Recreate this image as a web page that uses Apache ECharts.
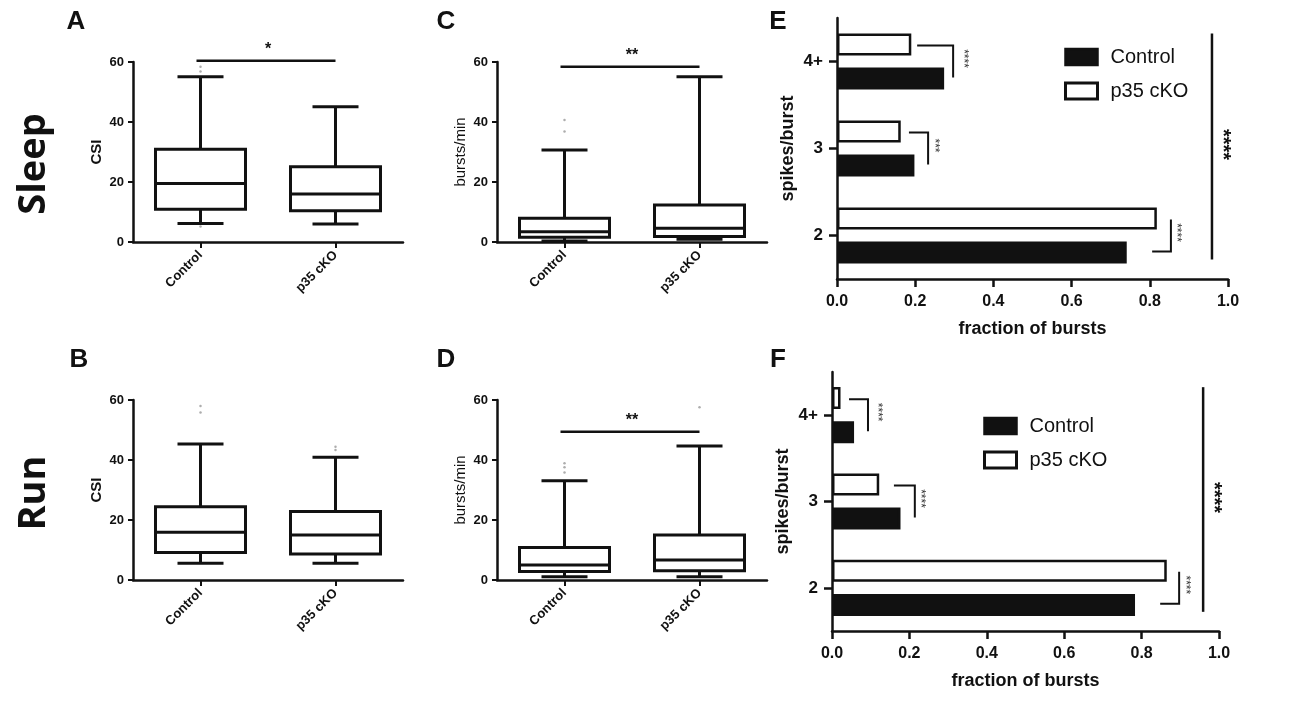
<!DOCTYPE html>
<html>
<head>
    <meta charset="UTF-8">
    <title>p35 cKO bursting</title>
    <script type="text/javascript" src="https://cdn.jsdelivr.net/npm/echarts@6/dist/echarts.min.js"></script>
</head>
<body style="margin:0;background-color:#fff;">
<div id="fig" style="width:1300px;height:705px;"></div>
<script>
    var groups = ['Control', 'p35 cKO'];
    var csiTicks = [0, 20, 40, 60];
    // box stats: [low whisker, Q1, median, Q3, high whisker], Control then p35 cKO
    var sleepCsi = [[6.2, 10.9, 19.5, 30.9, 55.1], [6, 10.4, 16, 25.1, 45.1]];
    var runCsi = [[5.6, 9.2, 15.9, 24.4, 45.3], [5.6, 8.7, 15, 22.8, 40.9]];
    var sleepRate = [[0.3, 1.6, 3.4, 7.9, 30.7], [0.9, 1.8, 4.6, 12.3, 55.1]];
    var runRate = [[1.1, 2.8, 5, 10.8, 33.1], [1.1, 3.1, 6.7, 15, 44.7]];
    // outliers: [group index, value]
    var sleepCsiOut = [[0, 58.4], [0, 56.8], [0, 5.2]];
    var runCsiOut = [[0, 58], [0, 55.8], [1, 44.4], [1, 43.3]];
    var sleepRateOut = [[0, 40.7], [0, 36.8]];
    var runRateOut = [[0, 38.9], [0, 37.6], [0, 35.8], [1, 57.6]];
    // significance bar: [height], stars
    var sigSleepCsi = [[60.4]], sigSleepCsiStars = '*';
    var sigSleepRate = [[58.4]], sigSleepRateStars = '**';
    var sigRunRate = [[49.4]], sigRunRateStars = '**';

    var spikeCats = ['2', '3', '4+'];
    var fracTicks = [0, 0.2, 0.4, 0.6, 0.8, 1.0];
    var sleepCtrl = [0.741, 0.198, 0.274];
    var sleepKo = [0.818, 0.163, 0.19];
    var runCtrl = [0.783, 0.177, 0.057];
    var runKo = [0.865, 0.122, 0.022];
    // pair brackets: [category, start x, corner x, stars x, kind 0=top/1=bottom]
    var sleepPairs = [[2, 0.205, 0.297, 0.322, 0], [1, 0.184, 0.233, 0.248, 0], [0, 0.806, 0.854, 0.867, 1]];
    var sleepPairStars = ['****', '***', '****'];
    var runPairs = [[2, 0.044, 0.093, 0.116, 0], [1, 0.160, 0.214, 0.227, 0], [0, 0.848, 0.897, 0.912, 1]];
    var runPairStars = ['****', '****', '****'];
    // overall test line: [line x, stars x]
    var sleepOverall = [[0.959, 0.985]];
    var runOverall = [[0.959, 0.985]];

    var ink = '#111';
    var font = '"Liberation Sans", Arial, sans-serif';

    function pen(w) {
        return {stroke: ink, lineWidth: w || 3, fill: null};
    }

    function renderBox(params, api) {
        var c = api.value(0);
        var lo = api.coord([c, api.value(1)]);
        var q1 = api.coord([c, api.value(2)]);
        var md = api.coord([c, api.value(3)]);
        var q3 = api.coord([c, api.value(4)]);
        var hi = api.coord([c, api.value(5)]);
        var x = lo[0], half = 45, cap = 23;
        return {type: 'group', children: [
            {type: 'line', shape: {x1: x, y1: hi[1], x2: x, y2: q3[1]}, style: pen()},
            {type: 'line', shape: {x1: x, y1: q1[1], x2: x, y2: lo[1]}, style: pen()},
            {type: 'line', shape: {x1: x - cap, y1: hi[1], x2: x + cap, y2: hi[1]}, style: pen()},
            {type: 'line', shape: {x1: x - cap, y1: lo[1], x2: x + cap, y2: lo[1]}, style: pen()},
            {type: 'rect', shape: {x: x - half, y: q3[1], width: half * 2, height: q1[1] - q3[1]},
                style: {stroke: ink, lineWidth: 3, fill: '#fff'}},
            {type: 'line', shape: {x1: x - half, y1: md[1], x2: x + half, y2: md[1]}, style: pen()}
        ]};
    }

    function makeSig(stars) {
        return function (params, api) {
            var a = api.coord([0, api.value(0)]);
            var b = api.coord([1, api.value(0)]);
            return {type: 'group', children: [
                {type: 'line', shape: {x1: a[0] - 4, y1: a[1], x2: b[0], y2: b[1]}, style: pen(2.5)},
                {type: 'text', x: (a[0] + b[0]) / 2, y: a[1] - 3,
                    style: {text: stars, fontSize: 16, fontWeight: 'bold', fontFamily: font, fill: ink,
                        align: 'center', verticalAlign: 'bottom'}}
            ]};
        };
    }

    function makeBracket(stars) {
        return function (params, api) {
            var c = api.value(0);
            var a = api.coord([api.value(1), c]);
            var b = api.coord([api.value(2), c]);
            var t = api.coord([api.value(3), c]);
            var yTop = a[1] - 16, yBot = a[1] + 16;
            var pts = api.value(4) === 0
                ? [[a[0], yTop], [b[0], yTop], [b[0], yBot]]
                : [[b[0], yTop], [b[0], yBot], [a[0], yBot]];
            return {type: 'group', children: [
                {type: 'polyline', shape: {points: pts}, style: pen(2)},
                {type: 'text', x: t[0], y: a[1] - 3, rotation: -Math.PI / 2,
                    style: {text: stars[params.dataIndex], fontSize: 12, fontFamily: font, fill: '#333',
                        align: 'center', verticalAlign: 'middle'}}
            ]};
        };
    }

    function renderOverall(params, api) {
        var top = api.coord([api.value(0), 2]);
        var bot = api.coord([api.value(0), 0]);
        var lab = api.coord([api.value(1), 1]);
        var y1 = top[1] - 28, y2 = bot[1] + 24;
        return {type: 'group', children: [
            {type: 'line', shape: {x1: top[0], y1: y1, x2: top[0], y2: y2}, style: pen(2.5)},
            {type: 'text', x: lab[0], y: (y1 + y2) / 2 - 2, rotation: -Math.PI / 2,
                style: {text: '****', fontSize: 20, fontWeight: 'bold', fontFamily: font, fill: ink,
                    align: 'center', verticalAlign: 'middle'}}
        ]};
    }

    var grids = [
        {left: 133, top: 62, width: 270, height: 180},
        {left: 133, top: 400, width: 270, height: 180},
        {left: 497, top: 62, width: 270, height: 180},
        {left: 497, top: 400, width: 270, height: 180},
        {left: 837, top: 18, width: 391, height: 261},
        {left: 832, top: 372, width: 387, height: 259}
    ];
    grids.forEach(function (g) { g.outerBoundsMode = 'none'; g.containLabel = false; });

    var boxPanels = [
        {stats: sleepCsi, out: sleepCsiOut, sig: sigSleepCsi, stars: sigSleepCsiStars, name: 'CSI', weight: 'bold'},
        {stats: runCsi, out: runCsiOut, sig: null, name: 'CSI', weight: 'bold'},
        {stats: sleepRate, out: sleepRateOut, sig: sigSleepRate, stars: sigSleepRateStars, name: 'bursts/min', weight: 'normal'},
        {stats: runRate, out: runRateOut, sig: sigRunRate, stars: sigRunRateStars, name: 'bursts/min', weight: 'normal'}
    ];

    var xAxes = [], yAxes = [], series = [];
    var axisLine = {show: true, lineStyle: {color: ink, width: 2.5}};

    boxPanels.forEach(function (p, i) {
        xAxes.push({
            type: 'category', gridIndex: i, data: groups,
            axisLine: axisLine,
            axisTick: {show: true, alignWithLabel: true, length: 6, lineStyle: {color: ink, width: 2}},
            axisLabel: {rotate: 45, margin: 11, fontSize: 13, fontWeight: 'bold', color: ink, fontFamily: font},
            splitLine: {show: false}
        });
        yAxes.push({
            type: 'value', gridIndex: i,
            min: csiTicks[0], max: csiTicks[csiTicks.length - 1], interval: csiTicks[1] - csiTicks[0],
            axisLine: axisLine,
            axisTick: {show: true, length: 5, lineStyle: {color: ink, width: 2}},
            axisLabel: {margin: 9, fontSize: 13, fontWeight: 'bold', color: ink, fontFamily: font},
            splitLine: {show: false},
            name: p.name, nameLocation: 'middle', nameGap: 29,
            nameTextStyle: {fontSize: 15, fontWeight: p.weight, color: ink, fontFamily: font}
        });
        series.push({
            type: 'custom', xAxisIndex: i, yAxisIndex: i, renderItem: renderBox,
            data: p.stats.map(function (s, k) { return [k].concat(s); }),
            encode: {x: 0, y: [1, 2, 3, 4, 5]}, silent: true, animation: false, clip: false
        });
        series.push({
            type: 'scatter', xAxisIndex: i, yAxisIndex: i, data: p.out,
            symbolSize: 2.5, itemStyle: {color: '#999'}, silent: true, animation: false, clip: false
        });
        if (p.sig) {
            series.push({
                type: 'custom', xAxisIndex: i, yAxisIndex: i, renderItem: makeSig(p.stars),
                data: p.sig, encode: {y: 0}, silent: true, animation: false, clip: false
            });
        }
    });

    var barPanels = [
        {ctrl: sleepCtrl, ko: sleepKo, pairs: sleepPairs, stars: sleepPairStars, overall: sleepOverall},
        {ctrl: runCtrl, ko: runKo, pairs: runPairs, stars: runPairStars, overall: runOverall}
    ];

    barPanels.forEach(function (p, j) {
        var i = j + 4;
        xAxes.push({
            type: 'value', gridIndex: i,
            min: fracTicks[0], max: fracTicks[fracTicks.length - 1], interval: fracTicks[1] - fracTicks[0],
            axisLine: axisLine,
            axisTick: {show: true, length: 8, lineStyle: {color: ink, width: 2.5}},
            axisLabel: {margin: 15, fontSize: 16, fontWeight: 'bold', color: ink, fontFamily: font,
                formatter: function (v) { return v.toFixed(1); }},
            splitLine: {show: false},
            name: 'fraction of bursts', nameLocation: 'middle', nameGap: 41,
            nameTextStyle: {fontSize: 18, fontWeight: 'bold', color: ink, fontFamily: font}
        });
        yAxes.push({
            type: 'category', gridIndex: i, data: spikeCats,
            axisLine: axisLine,
            axisTick: {show: true, alignWithLabel: true, length: 8, lineStyle: {color: ink, width: 2.5}},
            axisLabel: {margin: 14, fontSize: 17, fontWeight: 'bold', color: ink, fontFamily: font},
            splitLine: {show: false},
            name: 'spikes/burst', nameLocation: 'middle', nameGap: 40,
            nameTextStyle: {fontSize: 18, fontWeight: 'bold', color: ink, fontFamily: font}
        });
        series.push({
            type: 'bar', name: 'p35 cKO', xAxisIndex: i, yAxisIndex: i, data: p.ko,
            barWidth: 22, barGap: '55%', animation: false,
            itemStyle: {color: '#fff', borderColor: ink, borderWidth: 2.5},
            emphasis: {disabled: true}
        });
        series.push({
            type: 'bar', name: 'Control', xAxisIndex: i, yAxisIndex: i, data: p.ctrl,
            barWidth: 22, barGap: '55%', animation: false,
            itemStyle: {color: ink, borderColor: ink, borderWidth: 2.5},
            emphasis: {disabled: true}
        });
        series.push({
            type: 'custom', xAxisIndex: i, yAxisIndex: i, renderItem: makeBracket(p.stars),
            data: p.pairs, encode: {x: [1, 2, 3], y: 0}, silent: true, animation: false, clip: false
        });
        series.push({
            type: 'custom', xAxisIndex: i, yAxisIndex: i, renderItem: renderOverall,
            data: p.overall, encode: {x: [0, 1]}, silent: true, animation: false, clip: false
        });
    });

    function legendAt(left, top) {
        return {
            left: left, top: top, orient: 'vertical', selectedMode: false,
            itemWidth: 32, itemHeight: 16, itemGap: 14, icon: 'rect',
            textStyle: {fontSize: 20, color: ink, fontFamily: font, lineHeight: 16, padding: [0, 0, 0, 8]},
            data: [
                {name: 'Control', itemStyle: {color: ink, borderColor: ink, borderWidth: 2.5}},
                {name: 'p35 cKO', itemStyle: {color: '#fff', borderColor: ink, borderWidth: 3}}
            ]
        };
    }

    function label(txt, x, y, size, rot, family) {
        return {type: 'text', x: x, y: y, rotation: rot || 0, silent: true,
            style: {text: txt, fontSize: size, fontWeight: 'bold', fontFamily: family || font, fill: ink,
                align: 'center', verticalAlign: 'middle'}};
    }

    var chart = echarts.init(document.getElementById('fig'), null, {renderer: 'canvas'});
    chart.setOption({
        animation: false,
        backgroundColor: '#fff',
        textStyle: {fontFamily: font},
        grid: grids,
        xAxis: xAxes,
        yAxis: yAxes,
        legend: [legendAt(1059, 42), legendAt(978, 411)],
        series: series,
        graphic: [
            label('A', 76, 22, 26),
            label('B', 79, 360, 26),
            label('C', 446, 22, 26),
            label('D', 446, 360, 26),
            label('E', 778, 22, 26),
            label('F', 778, 360, 26),
            label('Sleep', 34, 164, 38, Math.PI / 2, '"Open Sans", sans-serif'),
            label('Run', 34, 493, 38, Math.PI / 2, '"Open Sans", sans-serif')
        ]
    });
</script>
</body>
</html>
